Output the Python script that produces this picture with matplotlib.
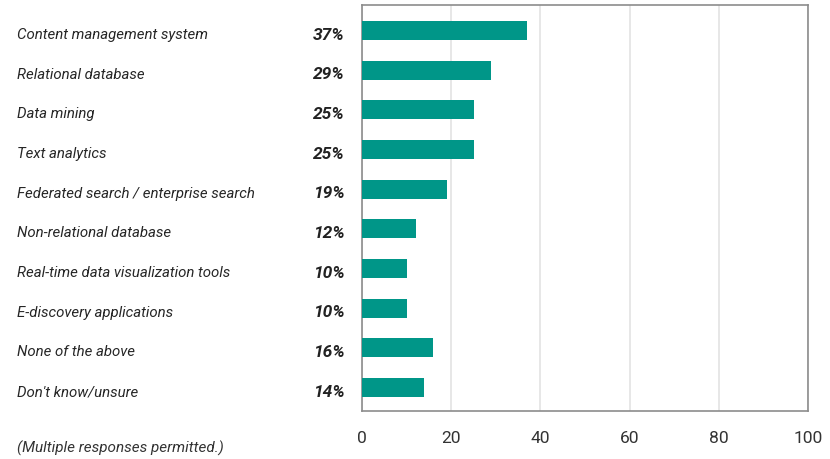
import matplotlib
matplotlib.use('Agg')
import numpy as np
from matplotlib import pyplot as plt

# 回答カテゴリと割合
categories = [
    'Content management system',
    'Relational database',
    'Data mining',
    'Text analytics',
    'Federated search / enterprise search',
    'Non-relational database',
    'Real-time data visualization tools',
    'E-discovery applications',
    'None of the above',
    "Don't know/unsure",
]
values = [37, 29, 25, 25, 19, 12, 10, 10, 16, 14]
xticks = [0, 20, 40, 60, 80, 100]
note = '(Multiple responses permitted.)'

plt.rcParams['font.family'] = ['Roboto', 'DejaVu Sans']

fig = plt.figure(figsize=(8.3, 4.6), dpi=100)
ax = fig.add_axes([362 / 830, 1 - 412 / 460, 446 / 830, 406 / 460])

y = np.arange(len(categories))
ax.barh(y, values, height=0.48, color='#009688', zorder=3)

ax.set_xlim(0, 100)
ax.set_ylim(9.592, -0.643)
ax.set_xticks(xticks)
ax.set_yticks([])
ax.tick_params(axis='x', length=0, pad=14, labelsize=12.5, labelcolor='#333333')
ax.grid(axis='x', color='#e3e3e3', linewidth=1.2, zorder=0)
for s in ax.spines.values():
    s.set_color('#8c8c8c')
    s.set_linewidth(1.2)

# 左側のラベルと割合
for i, (c, v) in enumerate(zip(categories, values)):
    ax.annotate(c, xy=(0, i), xycoords=('figure fraction', 'data'),
                xytext=(17, -3.5), textcoords='offset pixels',
                ha='left', va='center', fontsize=10.8, style='italic',
                color='#262626')
    ax.annotate('{}%'.format(v), xy=(0, i), xycoords=('figure fraction', 'data'),
                xytext=(345, -3.5), textcoords='offset pixels',
                ha='right', va='center', fontsize=12.5, style='italic',
                fontweight='bold', color='#222222')

fig.text(17 / 830, 1 - 448 / 460, note, ha='left', va='center',
         fontsize=11, style='italic', color='#333333')

plt.savefig('out.png', dpi=100)
